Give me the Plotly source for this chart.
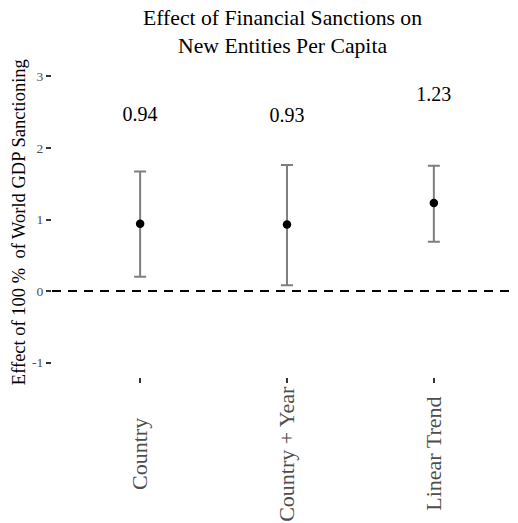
import plotly.graph_objects as go

models = ["Country", "Country + Year", "Linear Trend"]
estimates = [0.94, 0.93, 1.23]
ci_low = [0.20, 0.08, 0.69]
ci_high = [1.67, 1.76, 1.75]
label_offset = 1.5
y_ticks = [-1, 0, 1, 2, 3]
y_tick_labels = ["-1", "0", "1", "2", "3"]

FONT = "Liberation Serif"

fig = go.Figure()
fig.add_trace(go.Scatter(
    x=models, y=estimates, mode="markers",
    marker=dict(color="black", size=8.5),
    error_y=dict(type="data", symmetric=False,
                 array=[h - e for h, e in zip(ci_high, estimates)],
                 arrayminus=[e - l for e, l in zip(estimates, ci_low)],
                 color="#7f7f7f", thickness=2, width=6),
    showlegend=False, hoverinfo="skip"))
fig.add_trace(go.Scatter(
    x=models, y=[e + label_offset for e in estimates], mode="text",
    text=[f"{e:.2f}" for e in estimates],
    textfont=dict(family=FONT, size=20, color="black"),
    showlegend=False, hoverinfo="skip"))

fig.add_hline(y=0, line=dict(color="black", width=2, dash="9px,7px"))

for m in models:
    fig.add_annotation(x=m, xref="x", y=-0.244, yref="paper", text=m,
                       textangle=-90, showarrow=False, xanchor="center", yanchor="middle",
                       font=dict(family=FONT, size=22, color="#4d4d4d"))

fig.add_annotation(x=-0.0708, xref="paper", y=0.4916, yref="paper",
                   text="Effect of 100 %\u00a0 of World GDP Sanctioning",
                   textangle=-90, showarrow=False, xanchor="center", yanchor="middle",
                   font=dict(family=FONT, size=18.5, color="black"))

# chart title
fig.add_annotation(x=0.4957, xref="paper", y=1.096, yref="paper",
                   text="Effect of Financial Sanctions on<br>New Entities Per Capita",
                   showarrow=False, xanchor="center", yanchor="middle",
                   font=dict(family=FONT, size=21.7, color="black"))

fig.update_layout(
    width=510, height=515,
    margin=dict(l=44, r=0, t=53.7, b=146),
    plot_bgcolor="white", paper_bgcolor="white",
    font=dict(family=FONT),
    xaxis=dict(type="category", range=[-0.6, 2.573], showgrid=False, zeroline=False,
               showline=False, ticks="outside", ticklen=5, tickwidth=2, tickcolor="#333333",
               showticklabels=False, automargin=False),
    yaxis=dict(range=[-1.2, 3.2], tickvals=y_ticks, ticktext=y_tick_labels,
               showgrid=False, zeroline=False,
               showline=False, ticks="outside", ticklen=5, tickwidth=2, tickcolor="#333333",
               tickfont=dict(family=FONT, size=13.5, color="#4d4d4d"),
               automargin=False),
)

fig.write_html("out.html")
